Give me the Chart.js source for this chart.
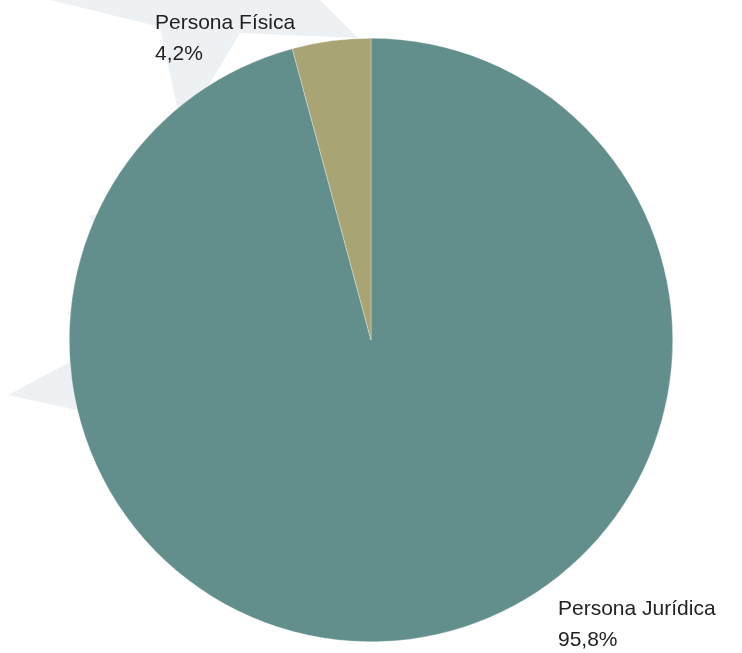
<!DOCTYPE html>
<html>
<head>
<meta charset="utf-8">
<script src="https://cdn.jsdelivr.net/npm/chart.js@4"></script>
<style>
  html, body { margin: 0; padding: 0; background: #ffffff; }
  #wrap { width: 742px; height: 653px; position: relative; }
</style>
</head>
<body>
<div id="wrap"><canvas id="chart"></canvas></div>
<script>
// Datos: distribución por tipo de persona
const categories = ['Persona Jurídica', 'Persona Física'];
const shares = [95.8, 4.2];
const shareLabels = ['95,8%', '4,2%'];
const sliceColors = ['#628f8c', '#a8a473'];

// decorative light rays behind the pie
const bgRays = {
    id: 'bgRays',
    beforeDraw(chart) {
        const ctx = chart.ctx;
        ctx.save();
        ctx.fillStyle = '#eef1f4';
        const polys = [
            [[50, 0], [160, 27], [182, 130], [240, 33], [357, 38], [380, 60], [320, 0]],
            [[8, 395], [70, 362], [160, 330], [160, 425], [77, 410]],
            [[89, 216], [130, 205], [120, 260]]
        ];
        polys.forEach(p => {
            ctx.beginPath();
            ctx.moveTo(p[0][0], p[0][1]);
            p.slice(1).forEach(pt => ctx.lineTo(pt[0], pt[1]));
            ctx.closePath();
            ctx.fill();
        });
        ctx.restore();
    }
};

// category name + percentage next to each slice
const sliceLabels = {
    id: 'sliceLabels',
    afterDraw(chart) {
        const ctx = chart.ctx;
        const pos = [[558, 615], [155, 29]];
        ctx.save();
        ctx.fillStyle = '#222222';
        ctx.font = '21px "Liberation Sans", Arial, sans-serif';
        ctx.textBaseline = 'alphabetic';
        categories.forEach((c, i) => {
            ctx.fillText(c, pos[i][0], pos[i][1]);
            ctx.fillText(shareLabels[i], pos[i][0], pos[i][1] + 31);
        });
        ctx.restore();
    }
};

new Chart(document.getElementById('chart'), {
    type: 'pie',
    data: {
        labels: categories,
        datasets: [{
            data: shares,
            backgroundColor: sliceColors,
            borderColor: 'rgba(255,255,255,0.6)',
            borderWidth: 0.5
        }]
    },
    options: {
        responsive: true,
        maintainAspectRatio: false,
        animation: false,
        layout: { padding: { top: 38, bottom: 11, left: 0, right: 0 } },
        plugins: {
            legend: { display: false },
            tooltip: { enabled: false }
        }
    },
    plugins: [bgRays, sliceLabels]
});
</script>
</body>
</html>
